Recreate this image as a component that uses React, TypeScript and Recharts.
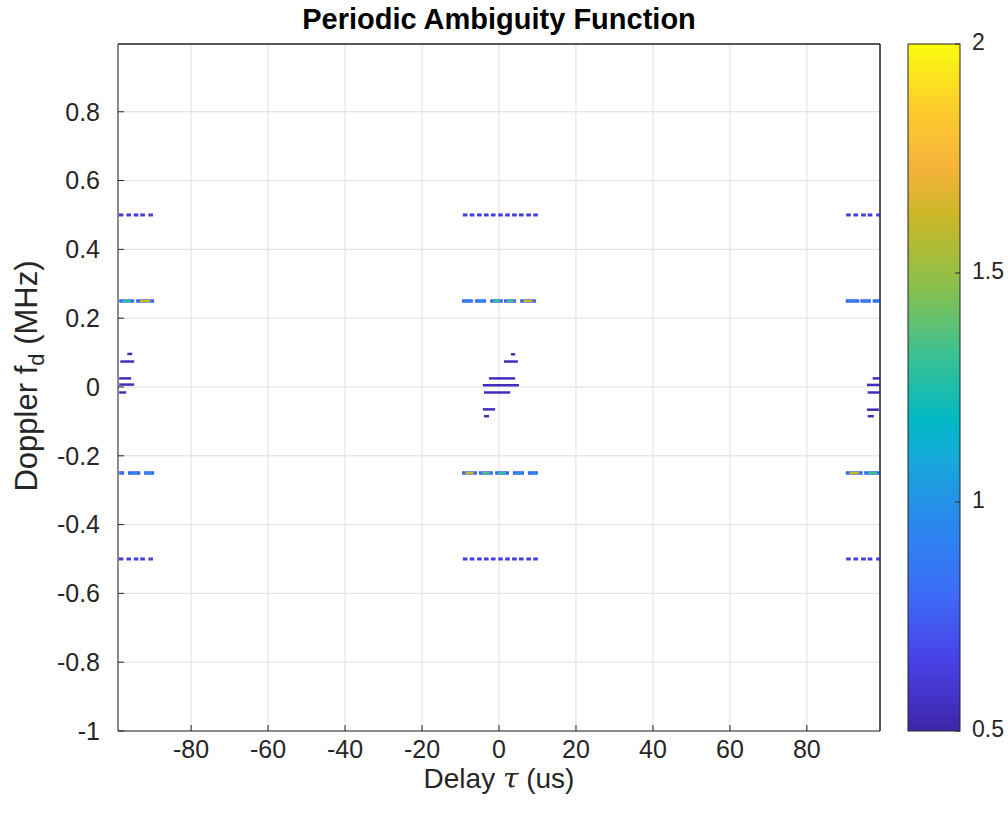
import React from 'react'
import { ComposedChart, Line, XAxis, YAxis, CartesianGrid, ReferenceLine } from 'recharts'

const delayTicks = [-80, -60, -40, -20, 0, 20, 40, 60, 80]
const dopplerTicks = [-1, -0.8, -0.6, -0.4, -0.2, 0, 0.2, 0.4, 0.6, 0.8]
const colorTicks = [0.5, 1, 1.5, 2]

// sidelobe rows at fd = ±0.5 MHz, dash centres (us)
const halfRowCenter = [-8.8, -7.0, -5.1, -3.3, -1.5, 0.4, 2.2, 4.0, 5.8, 7.7, 9.5]
const halfRowLeft = [-98.2, -96.2, -94.3, -92.6, -90.5]
const halfRowRight = [90.8, 92.7, 94.7, 96.4, 98.6]

// rows at fd = ±0.25 MHz: [start, end, peak level]
const quarterUp: [number, number, number][] = [
    [-9.6, -6.8, 0.95], [-6.2, -3.4, 1.0], [-2.3, 1.0, 1.3], [1.3, 4.4, 1.35], [5.5, 9.6, 1.62],
    [-98.7, -94.8, 1.3], [-94.3, -89.6, 1.62],
    [90.1, 93.6, 0.95], [93.9, 96.6, 0.95], [97.1, 99.2, 0.9],
]
const quarterDown: [number, number, number][] = [
    [-9.6, -5.7, 1.6], [-5.2, -1.6, 1.35], [-1.0, 2.6, 1.3], [3.6, 6.5, 1.0], [7.5, 10.1, 0.95],
    [-98.7, -97.4, 0.9], [-96.4, -93.2, 0.95], [-92.2, -89.6, 0.95],
    [90.1, 94.5, 1.6], [94.9, 99.2, 1.3],
]

// main lobe contours around fd = 0: [start, end, doppler]
const mainLobe: [number, number, number][] = [
    [3.1, 4.2, 0.095], [1.3, 4.9, 0.074], [-2.6, 4.2, 0.025], [-4.2, 5.2, 0.005],
    [-3.9, 2.9, -0.016], [-4.2, -1.0, -0.065], [-3.9, -2.6, -0.085],
    [-96.6, -95.3, 0.096], [-98.4, -94.8, 0.074], [-98.7, -95.6, 0.025],
    [-98.7, -94.8, 0.007], [-98.7, -96.9, -0.016],
    [97.1, 99.2, 0.025], [95.6, 99.2, 0.006], [95.8, 99.2, -0.016],
    [95.6, 98.7, -0.066], [95.8, 97.4, -0.085],
]

const parulaStops: [number, string][] = [
    [0, '#3e26a8'], [0.1, '#4840e5'], [0.2, '#3d6cf8'], [0.3, '#2a87ee'],
    [0.4, '#15aad8'], [0.45, '#00b8c5'], [0.55, '#3cc190'], [0.65, '#8cc04a'],
    [0.75, '#cbb727'], [0.82, '#f5b33a'], [0.9, '#fdca2e'], [1, '#f9fb0e'],
]
const cMin = 0.5
const cMax = 2
const xDomain: [number, number] = [-99, 99]
const yDomain: [number, number] = [-1, 0.997]

const hex = (s: string) => [1, 3, 5].map((i) => parseInt(s.slice(i, i + 2), 16))
const parula = (v: number) => {
    const t = Math.max(0, Math.min(1, (v - cMin) / (cMax - cMin)))
    for (let i = 1; i < parulaStops.length; i++) {
        const [t1, c1] = parulaStops[i]
        const [t0, c0] = parulaStops[i - 1]
        if (t <= t1) {
            const f = (t - t0) / (t1 - t0)
            const a = hex(c0)
            const b = hex(c1)
            const m = a.map((x, k) => Math.round(x + (b[k] - x) * f))
            return `rgb(${m[0]},${m[1]},${m[2]})`
        }
    }
    return parulaStops[parulaStops.length - 1][1]
}

type Seg = { x1: number; x2: number; y: number; level: number; width: number }

const segs: Seg[] = []
const dashHalf = 0.6
;[0.5, -0.5].forEach((y) => {
    ;[...halfRowCenter, ...halfRowLeft, ...halfRowRight].forEach((c) => {
        segs.push({ x1: c - dashHalf, x2: c + dashHalf, y, level: 0.62, width: 3 })
    })
})
const addQuarter = (rows: [number, number, number][], y: number) => {
    rows.forEach(([a, b, peak]) => {
        segs.push({ x1: a, x2: b, y, level: 0.78, width: 3.5 })
        const m = (a + b) / 2
        const h = (b - a) * 0.28
        segs.push({ x1: m - h, x2: m + h, y, level: peak, width: 2.5 })
    })
}
addQuarter(quarterUp, 0.25)
addQuarter(quarterDown, -0.25)
mainLobe.forEach(([a, b, y]) => segs.push({ x1: a, x2: b, y, level: 0.55, width: 2.5 }))

const W = 1008
const H = 816
const plot = { left: 118, right: 880, top: 44, bottom: 731 }
const bar = { x: 908, w: 52 }
const font = '"Liberation Sans", Arial, Helvetica, sans-serif'
const ink = '#262626'

const barY = (v: number) => plot.bottom - ((v - cMin) / (cMax - cMin)) * (plot.bottom - plot.top)

export default function App() {
    return (
        <div style={{ position: 'absolute', left: 0, top: 0, width: W, height: H, background: '#fff' }}>
            <ComposedChart
                width={W}
                height={H}
                margin={{ top: plot.top - 1, right: W - plot.right - 1, bottom: 35, left: plot.left - 70 }}
            >
                <CartesianGrid stroke="#dfdfdf" strokeWidth={1} />
                <XAxis
                    dataKey="x"
                    type="number"
                    domain={xDomain}
                    ticks={delayTicks}
                    allowDataOverflow
                    height={50}
                    stroke={ink}
                    tickSize={-6}
                    tickMargin={15}
                    tick={{ fill: ink, fontSize: 25, fontFamily: font }}
                />
                <YAxis
                    dataKey="y"
                    type="number"
                    domain={yDomain}
                    ticks={dopplerTicks}
                    allowDataOverflow
                    width={70}
                    stroke={ink}
                    tickSize={-6}
                    tickMargin={24}
                    tick={{ fill: ink, fontSize: 25, fontFamily: font }}
                />
                <XAxis
                    xAxisId="top"
                    orientation="top"
                    type="number"
                    domain={xDomain}
                    ticks={delayTicks}
                    height={1}
                    stroke={ink}
                    tickSize={-6}
                    tick={false}
                />
                <YAxis
                    yAxisId="right"
                    orientation="right"
                    type="number"
                    domain={yDomain}
                    ticks={dopplerTicks}
                    width={1}
                    stroke={ink}
                    tickSize={-6}
                    tick={false}
                />
                <ReferenceLine x={xDomain[1]} stroke={ink} ifOverflow="visible" />
                <ReferenceLine y={yDomain[1]} stroke={ink} ifOverflow="visible" />
                {segs.map((s, i) => (
                    <Line
                        key={i}
                        data={[{ x: s.x1, y: s.y }, { x: s.x2, y: s.y }]}
                        dataKey="y"
                        stroke={parula(s.level)}
                        strokeWidth={s.width}
                        dot={false}
                        activeDot={false}
                        isAnimationActive={false}
                    />
                ))}
            </ComposedChart>
            <svg
                width={W}
                height={H}
                style={{ position: 'absolute', left: 0, top: 0, pointerEvents: 'none' }}
                fontFamily={font}
            >
                <defs>
                    <linearGradient id="parula" x1="0" y1="1" x2="0" y2="0">
                        {parulaStops.map(([t, c]) => (
                            <stop key={t} offset={t} stopColor={c} />
                        ))}
                    </linearGradient>
                </defs>
                <text x={(plot.left + plot.right) / 2} y={29} textAnchor="middle" fontWeight="bold" fontSize={29} fill="#000">
                    Periodic Ambiguity Function
                </text>
                <text x={(plot.left + plot.right) / 2} y={788} textAnchor="middle" fontSize={28} fill={ink}>
                    Delay <tspan fontFamily='"DejaVu Serif", serif' fontStyle="italic">τ</tspan> (us)
                </text>
                <text
                    transform={`translate(37, 376) rotate(-90)`}
                    textAnchor="middle"
                    fontSize={31}
                    fill={ink}
                >
                    Doppler f<tspan dy={7} fontSize={22}>d</tspan>
                    <tspan dy={-7}> (MHz)</tspan>
                </text>
                <rect x={bar.x} y={plot.top} width={bar.w} height={plot.bottom - plot.top} fill="url(#parula)" stroke={ink} strokeWidth={1} />
                {colorTicks.map((v) => (
                    <g key={v}>
                        <line x1={bar.x + bar.w - 5} x2={bar.x + bar.w} y1={barY(v)} y2={barY(v)} stroke={ink} />
                        <text x={bar.x + bar.w + 12} y={barY(v)} dominantBaseline="middle" fontSize={23} fill={ink}>
                            {v}
                        </text>
                    </g>
                ))}
            </svg>
        </div>
    )
}
